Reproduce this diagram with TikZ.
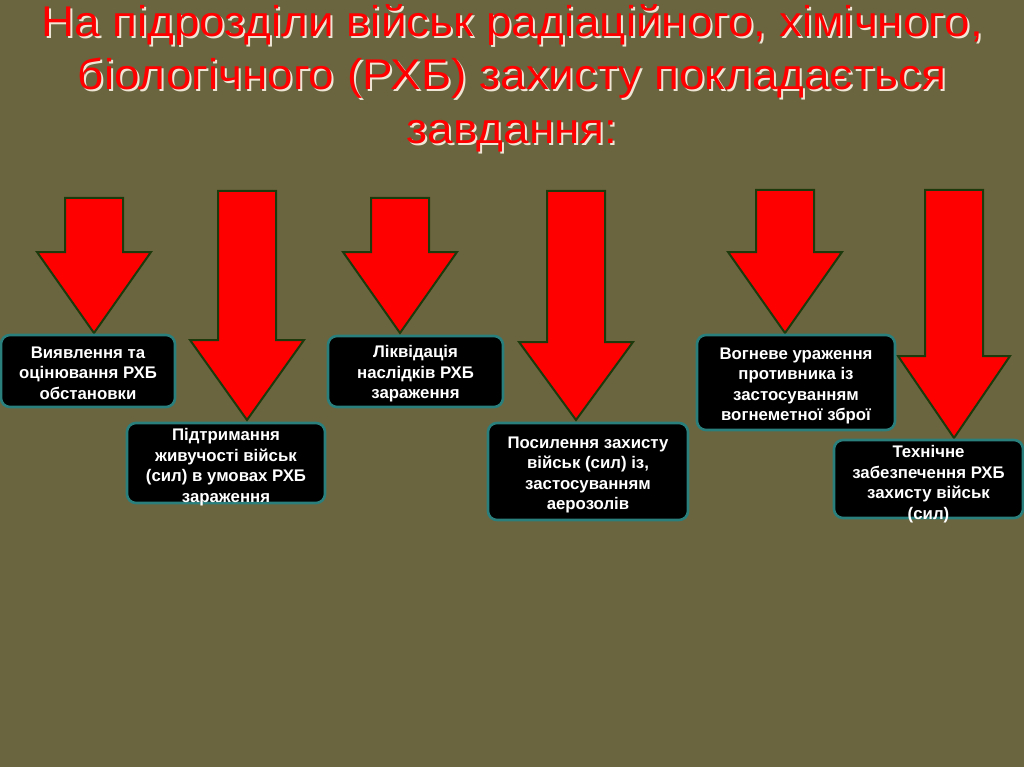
\documentclass[tikz,border=0pt]{standalone}
\usepackage{fontspec}
\setmainfont{Liberation Sans}
\definecolor{bg}{HTML}{6B653F}
\definecolor{arrowred}{HTML}{FF0000}
\definecolor{arrowedge}{HTML}{1C3A0C}
\definecolor{boxedge}{HTML}{2A7F7C}
\definecolor{shadowc}{HTML}{EDE6D6}
\tikzset{
  redarrow/.style={fill=arrowred, draw=arrowedge, line width=2pt, line join=miter},
  boxfont/.style={text=white, font=\bfseries\fontsize{16.8}{20.6}\selectfont, align=center, inner sep=0pt},
  taskbox/.style={rectangle, rounded corners=9pt, fill=black, draw=boxedge, line width=2.6pt, inner sep=0pt},
  titletext/.style={font=\fontsize{43}{50}\selectfont, text=arrowred, anchor=base, xscale=1.066, inner sep=0pt},
  titleshadow/.style={titletext, text=shadowc}
}
\begin{document}
\begin{tikzpicture}[x=1pt,y=-1pt]
\fill[bg] (0,0) rectangle (1024,767);
\useasboundingbox (0,0) rectangle (1024,767);
% title shadow
\node[titleshadow] (ts1) at (514,39) {На підрозділи військ радіаційного, хімічного,};
\node[titleshadow] (ts2) at (514,92) {біологічного (РХБ) захисту покладається};
\node[titleshadow] (ts3) at (514,146) {завдання:};
% title
\node[titletext] (t1) at (512,37) {На підрозділи військ радіаційного, хімічного,};
\node[titletext] (t2) at (512,90) {біологічного (РХБ) захисту покладається};
\node[titletext] (t3) at (512,144) {завдання:};
% arrows
\draw[redarrow] (65,198) -- (123,198) -- (123,252) -- (151,252) -- (94,333) -- (37,252) -- (65,252) -- cycle;
\draw[redarrow] (218,191) -- (276,191) -- (276,340) -- (304,340) -- (247,420) -- (190,340) -- (218,340) -- cycle;
\draw[redarrow] (371,198) -- (429,198) -- (429,252) -- (457,252) -- (400,333) -- (343,252) -- (371,252) -- cycle;
\draw[redarrow] (547,191) -- (605,191) -- (605,342) -- (633,342) -- (576,420) -- (519,342) -- (547,342) -- cycle;
\draw[redarrow] (756,190) -- (814,190) -- (814,252) -- (842,252) -- (785,333) -- (728,252) -- (756,252) -- cycle;
\draw[redarrow] (925,190) -- (983,190) -- (983,356) -- (1010,356) -- (954,438) -- (898,356) -- (925,356) -- cycle;
% boxes
\node[taskbox, minimum width=174pt, minimum height=72pt] (b1) at (88,371) {};
\node[taskbox, minimum width=198pt, minimum height=80pt] (b2) at (226,463) {};
\node[taskbox, minimum width=175pt, minimum height=71pt] (b3) at (415.5,371.5) {};
\node[taskbox, minimum width=200pt, minimum height=97pt] (b4) at (588,471.5) {};
\node[taskbox, minimum width=198pt, minimum height=95pt] (b5) at (796,382.5) {};
\node[taskbox, minimum width=189pt, minimum height=78pt] (b6) at (928.5,479) {};
% box texts
\node[boxfont] (b1t) at (88,373) {Виявлення та\\оцінювання РХБ\\обстановки};
\node[boxfont] (b2t) at (226,467) {Підтримання\\живучості військ\\(сил) в умовах РХБ\\зараження};
\node[boxfont] (b3t) at (415.5,374) {Ліквідація\\наслідків РХБ\\зараження};
\node[boxfont] (b4t) at (588,475) {Посилення захисту\\військ (сил) із,\\застосуванням\\аерозолів};
\node[boxfont] (b5t) at (796,386) {Вогневе ураження\\противника із\\застосуванням\\вогнеметної зброї};
\node[boxfont] (b6t) at (928.5,484) {Технічне\\забезпечення РХБ\\захисту військ\\(сил)};
\end{tikzpicture}
\end{document}
